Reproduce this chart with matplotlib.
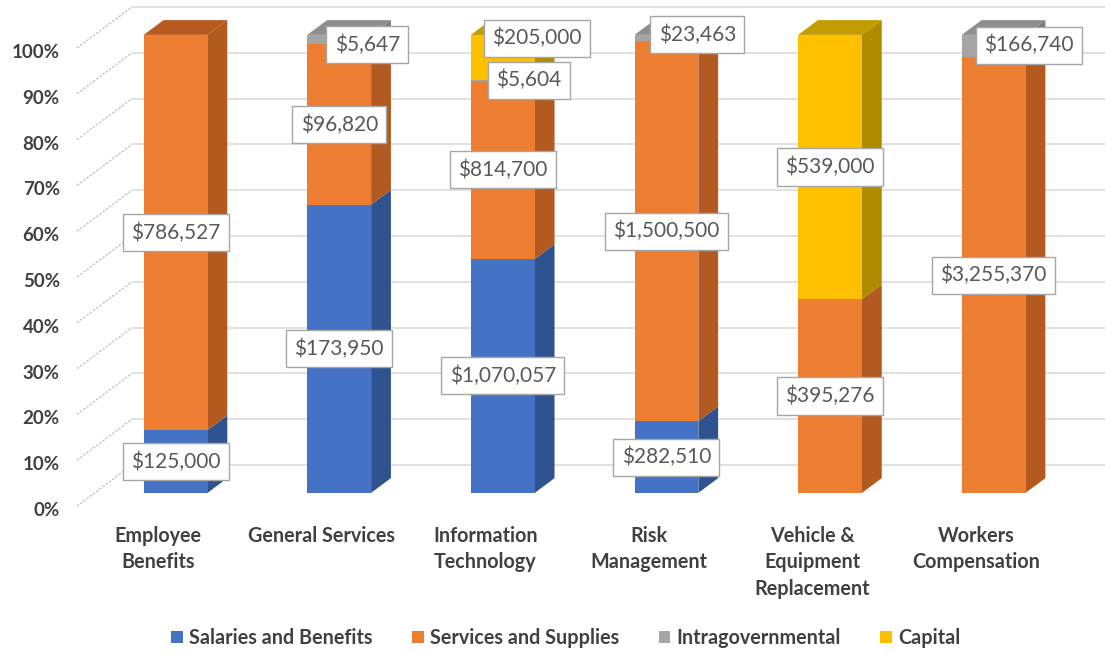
import matplotlib
matplotlib.use("Agg")
import matplotlib.pyplot as plt
from matplotlib.patches import Polygon, Patch

# ---------------- data ----------------
categories = ["Employee\nBenefits", "General Services", "Information\nTechnology",
              "Risk\nManagement", "Vehicle &\nEquipment\nReplacement", "Workers\nCompensation"]
series_names = ["Salaries and Benefits", "Services and Supplies", "Intragovernmental", "Capital"]
salaries = [125000, 173950, 1070057, 282510, 0, 0]
services = [786527, 96820, 814700, 1500500, 395276, 3255370]
intragov = [0, 5647, 5604, 23463, 0, 166740]
capital = [0, 0, 205000, 0, 539000, 0]
yticks = [0, 10, 20, 30, 40, 50, 60, 70, 80, 90, 100]

# ---------------- style ----------------
face_c = ["#4472C4", "#ED7D31", "#A5A5A5", "#FFC000"]
side_c = ["#2F538F", "#B25A20", "#7A7A7A", "#B08A00"]
top_c = ["#3A62AA", "#B8591F", "#8E8E8E", "#C29C00"]
FONT = "Lato"
TXT = "#404040"
LBL = "#595959"

# pixel-like layout in data units
DX, DY = 0.336, 8.95        # depth offset of back wall
ZF, ZB = 0.32, 0.68          # bar front / back depth
W = 0.39                     # bar width
FLOOR_X = -0.495             # front-left corner of floor

# label offsets (pixels) for the small segments that were moved
label_off = {(1, 2): (28, -5), (2, 2): (26, 0), (2, 3): (34, 19),
             (3, 2): (31, 3), (5, 2): (35, 1)}

fig = plt.figure(figsize=(11.05, 6.54), dpi=100)
ax = fig.add_axes([0, 0, 1, 1])
ax.set_xlim(-0.9658, 5.788)
ax.set_ylim(-32.31, 110.48)
ax.axis("off")

# walls / gridlines
for t in yticks:
    ax.plot([FLOOR_X, FLOOR_X + DX], [t, t + DY], color="#BFBFBF", lw=0.9,
            ls=(0, (2, 1.2)), zorder=1)
    ax.plot([FLOOR_X + DX, 5.788], [t + DY, t + DY], color="#D9D9D9", lw=1.1, zorder=1)
    ax.text(-0.60, t - 1.0, f"{t}%", ha="right", va="center", fontsize=13.5,
            fontweight="bold", color=TXT, family=FONT)

data = [salaries, services, intragov, capital]
for i in range(len(categories)):
    vals = [s[i] for s in data]
    total = sum(vals)
    xl = i + ZF * DX - W / 2
    xr = xl + W
    base = 0.0
    top_idx = max(k for k, v in enumerate(vals) if v > 0)
    for k, v in enumerate(vals):
        if v <= 0:
            continue
        h = v / total * 100
        y0, y1 = base, base + h
        # side face
        ax.add_patch(Polygon([(xr, y0 + ZF * DY), (xr + (ZB - ZF) * DX, y0 + ZB * DY),
                              (xr + (ZB - ZF) * DX, y1 + ZB * DY), (xr, y1 + ZF * DY)],
                             closed=True, facecolor=side_c[k], edgecolor="none", zorder=3))
        # front face
        ax.add_patch(Polygon([(xl, y0 + ZF * DY), (xr, y0 + ZF * DY),
                              (xr, y1 + ZF * DY), (xl, y1 + ZF * DY)],
                             closed=True, facecolor=face_c[k], edgecolor="none", zorder=4))
        if k == top_idx:
            ax.add_patch(Polygon([(xl, y1 + ZF * DY), (xr, y1 + ZF * DY),
                                  (xr + (ZB - ZF) * DX, y1 + ZB * DY),
                                  (xl + (ZB - ZF) * DX, y1 + ZB * DY)],
                                 closed=True, facecolor=top_c[k], edgecolor="none", zorder=4))
        off = label_off.get((i, k), (0, 0))
        ax.annotate(f"${v:,.0f}", xy=(i + ZF * DX, (y0 + y1) / 2 + ZF * DY),
                    xytext=off, textcoords="offset pixels", ha="center", va="center",
                    fontsize=15, color=LBL, family=FONT, zorder=10,
                    bbox=dict(boxstyle="square,pad=0.4", facecolor="white",
                              edgecolor="#A6A6A6", linewidth=1.0))
        base = y1

for i, c in enumerate(categories):
    ax.text(i, -4.3, c, ha="center", va="top", fontsize=14.2, fontweight="bold",
            color=TXT, family=FONT, linespacing=1.42)

handles = [Patch(facecolor=face_c[k], edgecolor="none") for k in range(4)]
fig.legend(handles, series_names, loc="center", bbox_to_anchor=(0.512, 0.0245),
           ncol=4, frameon=False, handlelength=0.6, handleheight=0.6,
           handletextpad=0.3, columnspacing=2.0,
           prop={"family": FONT, "weight": "bold", "size": 14.2}, labelcolor=TXT)

fig.savefig("out.png", dpi=100)
